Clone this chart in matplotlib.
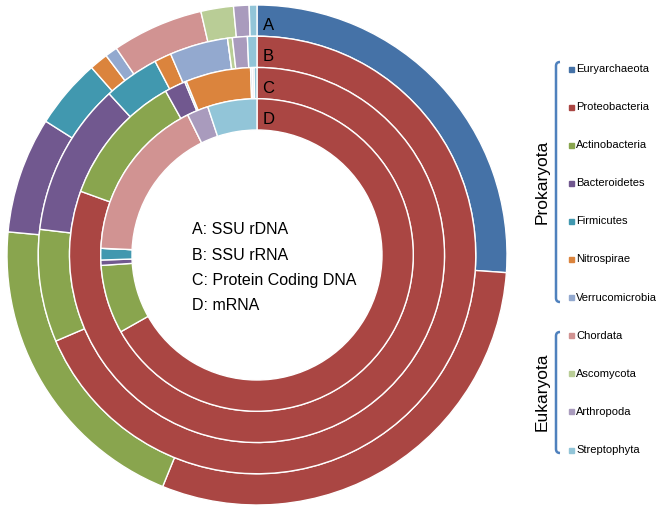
import matplotlib
matplotlib.use("Agg")
import matplotlib.pyplot as plt
from matplotlib.path import Path
from matplotlib.patches import PathPatch, Rectangle

plt.rcParams['font.family'] = ['Liberation Sans', 'DejaVu Sans']

# taxa (clockwise from top)
taxa = ['Euryarchaeota', 'Proteobacteria', 'Actinobacteria', 'Bacteroidetes',
        'Firmicutes', 'Nitrospirae', 'Verrucomicrobia',
        'Chordata', 'Ascomycota', 'Arthropoda', 'Streptophyta']
colors = ['#4572A7', '#AA4643', '#89A54E', '#71588F', '#4198AF', '#DB843D',
          '#93A9CF', '#D19392', '#B9CD96', '#A99BBD', '#92C5D8']

# percentages per ring
ssu_rdna = [26.1, 30.0, 20.3, 7.5, 4.5, 1.2, 0.8, 5.9, 2.1, 1.0, 0.5]
ssu_rrna = [0.0, 68.5, 8.3, 11.3, 4.1, 1.25, 4.3, 0.0, 0.35, 1.1, 0.7]
protein_dna = [0.0, 80.6, 11.4, 1.8, 0.15, 5.6, 0.15, 0.0, 0.0, 0.15, 0.25]
mrna = [0.0, 66.8, 7.1, 0.55, 1.2, 0.0, 0.0, 17.0, 0.0, 2.2, 5.1]

rings = [ssu_rdna, ssu_rrna, protein_dna, mrna]
ring_letters = ['A', 'B', 'C', 'D']
ring_names = ['A: SSU rDNA', 'B: SSU rRNA', 'C: Protein Coding DNA', 'D: mRNA']

fig = plt.figure(figsize=(6.6, 5.15), dpi=100)
ax = fig.add_axes([7 / 660, 10 / 515, 500 / 660, 500 / 515])

width = 0.125
for k, vals in enumerate(rings):
    r = 1.0 - k * width
    ax.pie(vals, radius=r, colors=colors, startangle=90, counterclock=False,
           wedgeprops=dict(width=width, edgecolor='white', linewidth=1.0))
    ax.text(0.045, r - width / 2 - 0.02, ring_letters[k], fontsize=12,
            ha='center', va='center')

for k, name in enumerate(ring_names):
    ax.text(-0.26, 0.10 - k * 0.1, name, fontsize=11.5, ha='left', va='center')

ax.set_xlim(-1, 1)
ax.set_ylim(-1, 1)
ax.set_aspect('equal')
ax.axis('off')

# legend drawn in pixel-like figure coordinates
W, H = 660.0, 515.0
y0, dy = 69, 38.1
for i, (name, c) in enumerate(zip(taxa, colors)):
    y = y0 + i * dy
    fig.patches.append(Rectangle((569 / W, 1 - (y + 2.5) / H), 5 / W, 5 / H,
                                 transform=fig.transFigure, color=c))
    fig.text(576 / W, 1 - y / H, name, fontsize=8, ha='left', va='center')


def bracket(y_top, y_bot):
    xs, hook = 556, 4
    verts = [(xs + hook, y_top), (xs, y_top), (xs, y_top + 4),
             (xs, y_bot - 4), (xs, y_bot), (xs + hook, y_bot)]
    codes = [Path.MOVETO, Path.CURVE3, Path.CURVE3,
             Path.LINETO, Path.CURVE3, Path.CURVE3]
    verts = [(x / W, 1 - y / H) for x, y in verts]
    fig.patches.append(PathPatch(Path(verts, codes), fill=False,
                                 edgecolor='#4F81BD', lw=1.8,
                                 transform=fig.transFigure))


bracket(62, 302)
bracket(332, 453)
fig.text(542 / W, 1 - 182 / H, 'Prokaryota', fontsize=12.5, rotation=90,
         ha='center', va='center')
fig.text(542 / W, 1 - 392 / H, 'Eukaryota', fontsize=12.5, rotation=90,
         ha='center', va='center')

fig.savefig('out.png', dpi=100)
